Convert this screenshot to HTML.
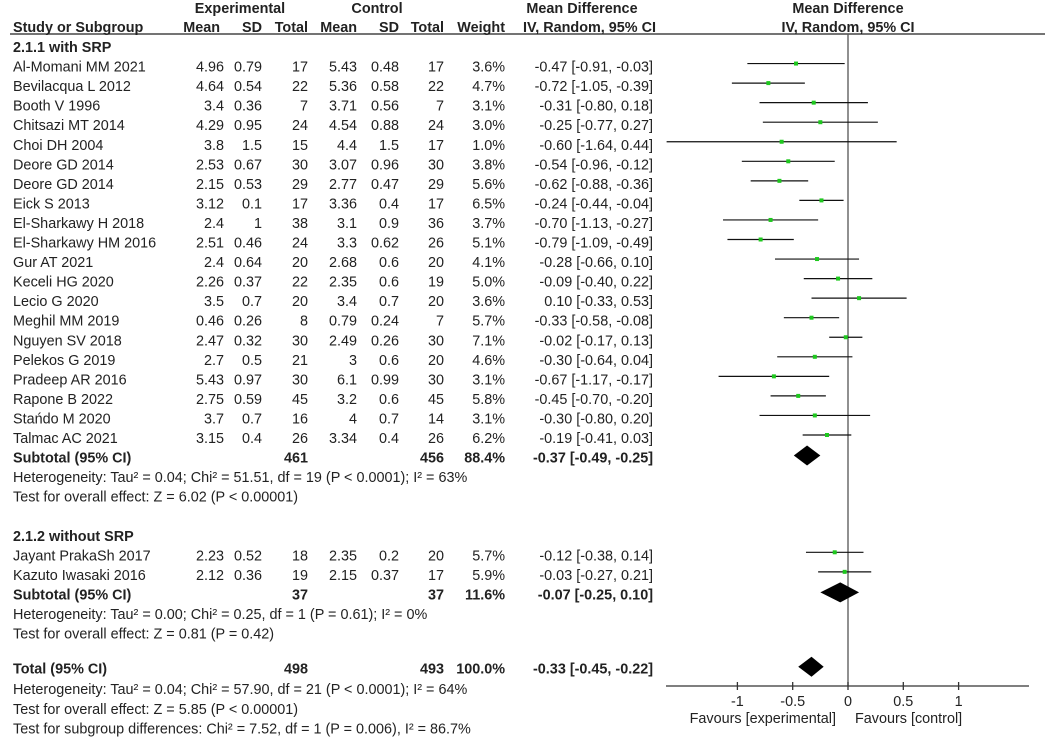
<!DOCTYPE html>
<html><head><meta charset="utf-8">
<style>
html,body{margin:0;padding:0;background:#fff;}
svg{display:block;font-family:"Liberation Sans",Arial,sans-serif;font-size:14.4px;fill:#222;}
.b{font-weight:bold;}
</style></head>
<body>
<svg id="plot" width="1045" height="737" viewBox="0 0 1045 737" xmlns="http://www.w3.org/2000/svg"></svg>
<script>
const studies=["Al-Momani MM 2021","Bevilacqua L 2012","Booth V 1996","Chitsazi MT 2014","Choi DH 2004","Deore GD 2014","Deore GD  2014","Eick S 2013","El-Sharkawy H 2018","El-Sharkawy HM 2016","Gur AT 2021","Keceli HG 2020","Lecio G 2020","Meghil MM 2019","Nguyen SV 2018","Pelekos G 2019","Pradeep AR 2016","Rapone B 2022","Stańdo M 2020","Talmac AC 2021"];
const expMean=["4.96","4.64","3.4","4.29","3.8","2.53","2.15","3.12","2.4","2.51","2.4","2.26","3.5","0.46","2.47","2.7","5.43","2.75","3.7","3.15"];
const expSD=["0.79","0.54","0.36","0.95","1.5","0.67","0.53","0.1","1","0.46","0.64","0.37","0.7","0.26","0.32","0.5","0.97","0.59","0.7","0.4"];
const expN=[17,22,7,24,15,30,29,17,38,24,20,22,20,8,30,21,30,45,16,26];
const ctlMean=["5.43","5.36","3.71","4.54","4.4","3.07","2.77","3.36","3.1","3.3","2.68","2.35","3.4","0.79","2.49","3","6.1","3.2","4","3.34"];
const ctlSD=["0.48","0.58","0.56","0.88","1.5","0.96","0.47","0.4","0.9","0.62","0.6","0.6","0.7","0.24","0.26","0.6","0.99","0.6","0.7","0.4"];
const ctlN=[17,22,7,24,17,30,29,17,36,26,20,19,20,7,30,20,30,45,14,26];
const weight=["3.6%","4.7%","3.1%","3.0%","1.0%","3.8%","5.6%","6.5%","3.7%","5.1%","4.1%","5.0%","3.6%","5.7%","7.1%","4.6%","3.1%","5.8%","3.1%","6.2%"];
const md=[-0.47,-0.72,-0.31,-0.25,-0.60,-0.54,-0.62,-0.24,-0.70,-0.79,-0.28,-0.09,0.10,-0.33,-0.02,-0.30,-0.67,-0.45,-0.30,-0.19];
const lo=[-0.91,-1.05,-0.80,-0.77,-1.64,-0.96,-0.88,-0.44,-1.13,-1.09,-0.66,-0.40,-0.33,-0.58,-0.17,-0.64,-1.17,-0.70,-0.80,-0.41];
const hi=[-0.03,-0.39,0.18,0.27,0.44,-0.12,-0.36,-0.04,-0.27,-0.49,0.10,0.22,0.53,-0.08,0.13,0.04,-0.17,-0.20,0.20,0.03];
const studies2=["Jayant PrakaSh 2017","Kazuto Iwasaki 2016"];
const expMean2=["2.23","2.12"],expSD2=["0.52","0.36"],expN2=[18,19];
const ctlMean2=["2.35","2.15"],ctlSD2=["0.2","0.37"],ctlN2=[20,17];
const weight2=["5.7%","5.9%"];
const md2=[-0.12,-0.03],lo2=[-0.38,-0.27],hi2=[0.14,0.21];
const subMd=[-0.37,-0.07],subLo=[-0.49,-0.25],subHi=[-0.25,0.10];
const totMd=-0.33,totLo=-0.45,totHi=-0.22;
const ticks=[-1,-0.5,0,0.5,1];

const svg=document.getElementById('plot');
const NS="http://www.w3.org/2000/svg";
const x0=848,scale=110.6;
function X(v){return x0+v*scale;}
const y0=47,step=19.55;
function Y(i){return y0+i*step;}
function txt(s,x,y,anchor,cls,name){
  const t=document.createElementNS(NS,'text');
  t.setAttribute('x',x);t.setAttribute('y',y+5);
  if(anchor)t.setAttribute('text-anchor',anchor);
  if(cls)t.setAttribute('class',cls);
  t.textContent=s;
  
  
  svg.appendChild(t);return t;
}
function line(x1,y1,x2,y2,w,c,name){
  const l=document.createElementNS(NS,'line');
  l.setAttribute('x1',x1);l.setAttribute('y1',y1);l.setAttribute('x2',x2);l.setAttribute('y2',y2);
  l.setAttribute('stroke',c||'#222');l.setAttribute('stroke-width',w||1);
  
  
  svg.appendChild(l);return l;
}
function fmt(v){return v.toFixed(2);}
function ci(m,l,h){return fmt(m)+" ["+fmt(l)+", "+fmt(h)+"]";}
const cM1=224,cS1=262,cT1=308,cM2=357,cS2=399,cT2=444,cW=505,cCI=653;

// headers
txt("Experimental",240,8,'middle','b','header-experimental');
txt("Control",377,8,'middle','b','header-control');
txt("Mean Difference",582,8,'middle','b','header-mean-difference');
txt("Mean Difference",848,8,'middle','b','header-plot-mean-difference');
txt("Study or Subgroup",13,27,'start','b','header-study');
txt("Mean",cM1-4,27,'end','b','header-exp-mean');
txt("SD",cS1,27,'end','b','header-exp-sd');
txt("Total",cT1,27,'end','b','header-exp-total');
txt("Mean",cM2,27,'end','b','header-ctl-mean');
txt("SD",cS2,27,'end','b','header-ctl-sd');
txt("Total",cT2,27,'end','b','header-ctl-total');
txt("Weight",cW,27,'end','b','header-weight');
txt("IV, Random, 95% CI",cCI+3,27,'end','b','header-ci');
txt("IV, Random, 95% CI",848,27,'middle','b','header-plot-ci');
line(10,34,1045,34,1.3,'#222','header-rule');
line(x0,34,x0,686,1.3,'#555','null-line');

function studyRow(i,name,m1,s1,n1,m2,s2,n2,w,e,l,h){
  const y=Y(i);
  txt(name,13,y,'start','','study-name');
  txt(m1,cM1,y,'end','','exp-mean');txt(s1,cS1,y,'end','','exp-sd');txt(String(n1),cT1,y,'end','','exp-total');
  txt(m2,cM2,y,'end','','ctl-mean');txt(s2,cS2,y,'end','','ctl-sd');txt(String(n2),cT2,y,'end','','ctl-total');
  txt(w,cW,y,'end','','weight');txt(ci(e,l,h),cCI,y,'end','','study-ci');
  const yl=y-3;
  line(X(l),yl,X(h),yl,1.2,'#111','ci-whisker');
  const r=document.createElementNS(NS,'rect');
  r.setAttribute('x',X(e)-2);r.setAttribute('y',yl-2);r.setAttribute('width',4);r.setAttribute('height',4);
  r.setAttribute('fill','#1ec81e');
  
  
  svg.appendChild(r);
}
function diamond(i,m,l,h,name){
  const y=Y(i)-2;
  const p=document.createElementNS(NS,'polygon');
  p.setAttribute('points',`${X(l)},${y} ${X(m)},${y-10} ${X(h)},${y} ${X(m)},${y+10}`);
  p.setAttribute('fill','#000');
  
  
  svg.appendChild(p);
}
txt("2.1.1 with SRP",13,Y(0),'start','b','subgroup-1-title');
studies.forEach((s,k)=>studyRow(k+1,s,expMean[k],expSD[k],expN[k],ctlMean[k],ctlSD[k],ctlN[k],weight[k],md[k],lo[k],hi[k]));
txt("Subtotal (95% CI)",13,Y(21),'start','b','subtotal-1-label');
txt("461",cT1,Y(21),'end','b','subtotal-1-exp');txt("456",cT2,Y(21),'end','b','subtotal-1-ctl');
txt("88.4%",cW,Y(21),'end','b','subtotal-1-weight');txt(ci(subMd[0],subLo[0],subHi[0]),cCI,Y(21),'end','b','subtotal-1-ci');
diamond(21,subMd[0],subLo[0],subHi[0],'subtotal-1-diamond');
txt("Heterogeneity: Tau² = 0.04; Chi² = 51.51, df = 19 (P < 0.0001); I² = 63%",13,Y(22),'start','','heterogeneity-1');
txt("Test for overall effect: Z = 6.02 (P < 0.00001)",13,Y(23),'start','','overall-effect-1');

txt("2.1.2 without SRP",13,Y(25),'start','b','subgroup-2-title');
studies2.forEach((s,k)=>studyRow(26+k,s,expMean2[k],expSD2[k],expN2[k],ctlMean2[k],ctlSD2[k],ctlN2[k],weight2[k],md2[k],lo2[k],hi2[k]));
txt("Subtotal (95% CI)",13,Y(28),'start','b','subtotal-2-label');
txt("37",cT1,Y(28),'end','b','subtotal-2-exp');txt("37",cT2,Y(28),'end','b','subtotal-2-ctl');
txt("11.6%",cW,Y(28),'end','b','subtotal-2-weight');txt(ci(subMd[1],subLo[1],subHi[1]),cCI,Y(28),'end','b','subtotal-2-ci');
diamond(28,subMd[1],subLo[1],subHi[1],'subtotal-2-diamond');
txt("Heterogeneity: Tau² = 0.00; Chi² = 0.25, df = 1 (P = 0.61); I² = 0%",13,Y(29),'start','','heterogeneity-2');
txt("Test for overall effect: Z = 0.81 (P = 0.42)",13,Y(30),'start','','overall-effect-2');

txt("Total (95% CI)",13,Y(31.8),'start','b','total-label');
txt("498",cT1,Y(31.8),'end','b','total-exp');txt("493",cT2,Y(31.8),'end','b','total-ctl');
txt("100.0%",cW,Y(31.8),'end','b','total-weight');txt(ci(totMd,totLo,totHi),cCI,Y(31.8),'end','b','total-ci');
diamond(31.8,totMd,totLo,totHi,'total-diamond');
txt("Heterogeneity: Tau² = 0.04; Chi² = 57.90, df = 21 (P < 0.0001); I² = 64%",13,Y(32.85),'start','','heterogeneity-total');
txt("Test for overall effect: Z = 5.85 (P < 0.00001)",13,Y(33.85),'start','','overall-effect-total');
txt("Test for subgroup differences: Chi² = 7.52, df = 1 (P = 0.006), I² = 86.7%",13,Y(34.85),'start','','subgroup-differences');

// axis
line(666,686,1029,686,1.3,'#333','x-axis');
ticks.forEach(t=>{
  line(X(t),682,X(t),690,1.3,'#333','x-tick');
  txt(String(t),X(t),701,'middle','','x-tick-label');
});
txt("Favours [experimental]",836,718,'end','','favours-experimental');
txt("Favours [control]",855,718,'start','','favours-control');
</script>
</body></html>
